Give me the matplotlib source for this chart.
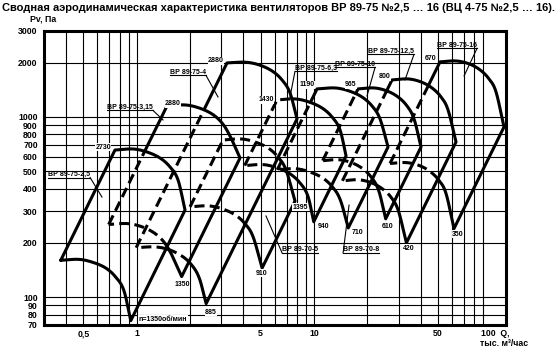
import numpy as np
import matplotlib
matplotlib.use('Agg')
import matplotlib.pyplot as plt
from matplotlib.path import Path

plt.rcParams['font.family'] = ['Liberation Sans', 'DejaVu Sans']

TITLE = "Сводная аэродинамическая характеристика вентиляторов ВР 89-75 №2,5 … 16 (ВЦ 4-75 №2,5 … 16)."
y_ticks = [70, 80, 90, 100, 200, 300, 400, 500, 600, 700, 800, 900, 1000, 2000, 3000]
x_ticks = [0.5, 1, 5, 10, 50]
x_tick_labels = ['0,5', '1', '5', '10', '50']
x_grid = [0.4, 0.5, 0.6, 0.7, 0.8, 0.9, 1, 2, 3, 4, 5, 6, 7, 8, 9, 10, 20, 30, 40, 50, 60, 70, 80, 90]
y_grid = [80, 90, 100, 200, 300, 400, 500, 600, 700, 800, 900, 1000, 2000]

# top arc = max rpm, bottom arc = min rpm
f25_top_q = [0.754, 0.953, 1.143, 1.353, 1.541, 1.710, 1.873]
f25_top_p = [655, 664, 639, 592, 528, 447, 304]
f25_bot_q = [0.373, 0.471, 0.565, 0.669, 0.762, 0.846, 0.926]
f25_bot_p = [160, 162, 156, 145, 129, 109, 74]

f315_top_q = [1.482, 1.873, 2.246, 2.659, 3.028, 3.359, 3.825]
f315_top_p = [1151, 1166, 1122, 1039, 926, 784, 592]
f315_bot_q = [0.695, 0.878, 1.053, 1.247, 1.420, 1.575, 1.793]
f315_bot_p = [253, 256, 247, 228, 203, 172, 130]

f4_top_q = [3.231, 4.082, 4.895, 5.797, 6.600, 7.322, 8.018]
f4_top_p = [1995, 2014, 1946, 1801, 1605, 1360, 975]
f4_bot_q = [0.993, 1.254, 1.504, 1.781, 2.028, 2.250, 2.464]
f4_bot_p = [188, 190, 184, 170, 152, 128, 92]

f5_top_q = [3.067, 3.876, 4.649, 5.503, 6.266, 6.952, 7.813]
f5_top_p = [745, 755, 726, 673, 599, 508, 341]
f5_bot_q = [2.0, 2.528, 3.033, 3.590, 4.087, 4.535, 5.097]
f5_bot_p = [317, 321, 309, 286, 255, 216, 145]

f63_top_q = [6.184, 7.813, 9.372, 11.09, 12.64, 14.02, 15.16]
f63_top_p = [1243, 1259, 1211, 1122, 1000, 847, 607]
f63_bot_q = [4.065, 5.136, 6.160, 7.290, 8.308, 9.215, 9.965]
f63_bot_p = [537, 544, 523, 485, 432, 366, 262]

f8_top_q = [10.40, 13.14, 15.76, 18.65, 21.24, 23.57, 26.15]
f8_top_p = [1431, 1449, 1394, 1291, 1151, 975, 681]
f8_bot_q = [6.205, 7.839, 9.402, 11.13, 12.67, 14.06, 15.60]
f8_bot_p = [509, 516, 496, 460, 410, 347, 242]

f10_top_q = [17.71, 21.80, 25.81, 29.78, 33.46, 36.65, 40.13]
f10_top_p = [1431, 1449, 1394, 1291, 1151, 975, 681]
f10_bot_q = [11.19, 13.78, 16.31, 18.82, 21.15, 23.17, 25.37]
f10_bot_p = [572, 579, 557, 516, 460, 390, 272]

f125_top_q = [27.54, 33.91, 40.13, 46.29, 52.04, 57.00, 63.23]
f125_top_p = [1605, 1626, 1565, 1449, 1291, 1094, 726]
f125_bot_q = [14.46, 17.80, 21.07, 24.30, 27.32, 29.93, 33.20]
f125_bot_p = [442, 448, 431, 399, 356, 301, 200]

f16_top_q = [51.37, 63.23, 74.86, 86.39, 97.05, 106.3, 117.9]
f16_top_p = [2022, 2046, 1972, 1825, 1626, 1377, 880]
f16_bot_q = [26.84, 33.03, 39.11, 45.13, 50.70, 55.53, 61.59]
f16_bot_p = [552, 558, 538, 498, 444, 376, 240]

fans = [
    (f25_top_q, f25_top_p, f25_bot_q, f25_bot_p),
    (f315_top_q, f315_top_p, f315_bot_q, f315_bot_p),
    (f4_top_q, f4_top_p, f4_bot_q, f4_bot_p),
    (f5_top_q, f5_top_p, f5_bot_q, f5_bot_p),
    (f63_top_q, f63_top_p, f63_bot_q, f63_bot_p),
    (f8_top_q, f8_top_p, f8_bot_q, f8_bot_p),
    (f10_top_q, f10_top_p, f10_bot_q, f10_bot_p),
    (f125_top_q, f125_top_p, f125_bot_q, f125_bot_p),
    (f16_top_q, f16_top_p, f16_bot_q, f16_bot_p),
]

rpm_labels = ['2730', '2880', '2880', '1430', '1190', '965', '800', '670',
              '1350', '885', '910', '1395', '940', '710', '610', '420', '350']
rpm_q = [0.646, 1.603, 2.801, 5.362, 9.13, 16.17, 25.15, 45.7,
         1.80, 2.624, 5.09, 8.34, 11.24, 17.48, 26.15, 34.35, 64.9]
rpm_p = [681, 1181, 2046, 1243, 1506, 1506, 1668, 2099,
         118, 82.5, 136, 316, 245, 227, 245, 187, 224]

fan_names = ['ВР 89-75-2,5', 'ВР 89-75-3,15', 'ВР 89-75-4', 'ВР 89-75-6,3',
             'ВР 89-75-10', 'ВР 89-75-12,5', 'ВР 89-75-16', 'ВР 89-70-5', 'ВР 89-70-8']
name_q = [0.316, 0.681, 1.541, 7.81, 13.14, 20.14, 49.4, 6.6, 14.59]
name_p = [458, 1080, 1690, 1778, 1872, 2208, 2387, 175, 175]
ptr_side = ['r', 'r', 'r', 'l', 'r', 'r', 'r', 'l', 'l']
ptr_q = [0.637, 1.407, 2.874, 7.32, 19.9, 32.6, 70.2, 5.36, 15.76]
ptr_p = [359, 962, 1291, 1291, 1308, 1605, 1690, 282, 324]


def smooth_log(q, p, n=16):
    pts = np.column_stack([np.log10(q), np.log10(p)])
    P = np.vstack([2 * pts[0] - pts[1], pts, 2 * pts[-1] - pts[-2]])
    out = []
    t = np.linspace(0, 1, n, endpoint=False)[:, None]
    for i in range(1, len(P) - 2):
        p0, p1, p2, p3 = P[i - 1], P[i], P[i + 1], P[i + 2]
        seg = 0.5 * ((2 * p1) + (-p0 + p2) * t + (2 * p0 - 5 * p1 + 4 * p2 - p3) * t ** 2
                     + (-p0 + 3 * p1 - 3 * p2 + p3) * t ** 3)
        out.append(seg)
    out.append(P[-2][None, :])
    return np.vstack(out)


def seg_line(a, b, n=80):
    t = np.linspace(0, 1, n)[:, None]
    return a + (b - a) * t


W, H = 560, 353
fig = plt.figure(figsize=(W / 100, H / 100), dpi=100)
ax = fig.add_axes([44 / W, 1 - 325 / H, 462 / W, 294 / H])
ax.set_xscale('log')
ax.set_yscale('log')
ax.set_xlim(0.3, 121)
ax.set_ylim(70, 3000)

for g in x_grid:
    ax.axvline(g, color='black', lw=0.8, zorder=1)
for g in y_grid:
    ax.axhline(g, color='black', lw=0.8, zorder=1)

ax.set_yticks(y_ticks)
ax.set_yticklabels([str(v) for v in y_ticks], fontsize=6.3, fontweight='bold')
ax.set_xticks(x_ticks)
ax.set_xticklabels(x_tick_labels, fontsize=6.3, fontweight='bold')
ax.minorticks_off()
ax.tick_params(axis='y', length=0, pad=4.5)
ax.tick_params(axis='x', length=0, pad=3)
for s in ax.spines.values():
    s.set_linewidth(2.2)
    s.set_zorder(6)

# build outlines in log space
outlines = []
for tq, tp, bq, bp in fans:
    top = smooth_log(tq, tp)
    bot = smooth_log(bq, bp)
    left = seg_line(bot[0], top[0])
    right = seg_line(top[-1], bot[-1])
    outline = np.vstack([left, top[1:], right[1:], bot[::-1][1:]])
    outlines.append(outline)

paths = [Path(o) for o in outlines]
solid_kw = dict(color='black', lw=2.2, zorder=3, solid_capstyle='round', solid_joinstyle='round')
dash_kw = dict(color='black', lw=2.2, zorder=3, dashes=(3.3, 1.7), dash_capstyle='butt')

for i, o in enumerate(outlines):
    mids = 0.5 * (o[1:] + o[:-1])
    inside = np.zeros(len(mids), dtype=bool)
    for j in range(i):
        inside |= paths[j].contains_points(mids)
    start = 0
    for k in range(1, len(mids) + 1):
        if k == len(mids) or inside[k] != inside[start]:
            seg = o[start:k + 1]
            kw = dash_kw if inside[start] else solid_kw
            ax.plot(10 ** seg[:, 0], 10 ** seg[:, 1], **kw)
            start = k

lab_bbox = dict(facecolor='white', edgecolor='none', pad=0.3)
for lab, q, p in zip(rpm_labels, rpm_q, rpm_p):
    ax.text(q, p, lab, fontsize=5.0, fontweight='bold', ha='center', va='center', zorder=5,
            bbox=lab_bbox)

ax.text(1.03, 75.5, 'n=1350об/мин', fontsize=5.0, fontweight='bold', ha='left', va='center', zorder=5,
        bbox=dict(facecolor='white', edgecolor='none', pad=0.6))

fig.canvas.draw()
r = fig.canvas.get_renderer()
inv = ax.transData.inverted()
for name, q, p, side, pq, pp in zip(fan_names, name_q, name_p, ptr_side, ptr_q, ptr_p):
    t = ax.text(q, p, name, fontsize=5.0, fontweight='bold', ha='left', va='bottom', zorder=5)
    bb = t.get_window_extent(r)
    (x0, y0), (x1, y1) = inv.transform([(bb.x0, bb.y0 + 0.5), (bb.x1, bb.y0 + 0.5)])
    ax.plot([x0, x1], [y0, y1], color='black', lw=0.8, zorder=5)
    sx, sy = (x1, y1) if side == 'r' else (x0, y0)
    ax.plot([sx, pq], [sy, pp], color='black', lw=0.8, zorder=5)

fig.text(2 / W, 1 - 8 / H, TITLE, fontsize=8.0, fontweight='bold', ha='left', va='center')
fig.text(30 / W, 1 - 19 / H, 'Pv, Па', fontsize=6.3, fontweight='bold', ha='left', va='center')
fig.text(481 / W, 1 - 333 / H, '100  Q,', fontsize=6.3, fontweight='bold', ha='left', va='center')
fig.text(480 / W, 1 - 343 / H, 'тыс. м³/час', fontsize=6.3, fontweight='bold', ha='left', va='center')

fig.savefig('out.png', dpi=100)
